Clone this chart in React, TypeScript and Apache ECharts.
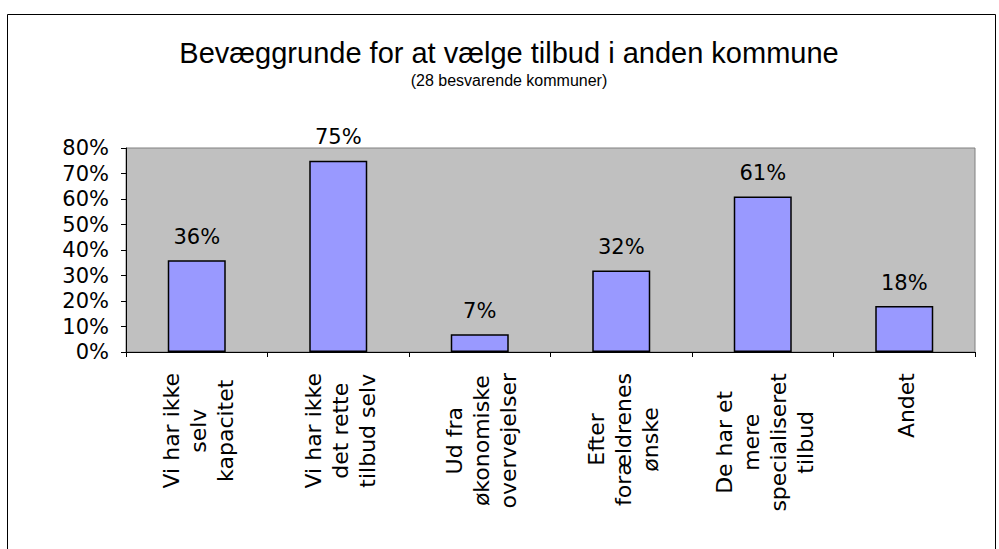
import React, { useEffect, useRef } from "react";
import * as echarts from "echarts";

const titleText = "Bevæggrunde for at vælge tilbud i anden kommune";
const subtitleText = "(28 besvarende kommuner)";
const categories = [
  "Vi har ikke\nselv\nkapacitet",
  "Vi har ikke\ndet rette\ntilbud selv",
  "Ud fra\nøkonomiske\novervejelser",
  "Efter\nforældrenes\nønske",
  "De har et\nmere\nspecialiseret\ntilbud",
  "Andet",
];
const values = [36, 75, 7, 32, 61, 18];
const yMin = 0;
const yMax = 80;
const yStep = 10;

export default function App() {
  const ref = useRef<HTMLDivElement>(null);
  useEffect(() => {
    if (!ref.current) return;
    const chart = echarts.init(ref.current, null, { renderer: "svg" });
    const axisFontName = "DejaVu Sans";
    const axisFont = "'DejaVu Sans', Verdana, sans-serif";
    const titleFont = "'Liberation Sans', Arial, sans-serif";
    const labelSize = 22;
    const labelLineHeight = 27;
    const labelMargin = 21;
    const frame = {
      type: "rect",
      shape: { x: 7.5, y: 14.5, width: 988, height: 600 },
      style: { fill: "none", stroke: "#000", lineWidth: 1 },
      silent: true,
      z: -1,
    };
    const titleEls = [
      {
        type: "text",
        x: 509,
        y: 53,
        silent: true,
        style: {
          text: titleText,
          fontFamily: titleFont,
          fontSize: 29,
          fill: "#000",
          align: "center",
          verticalAlign: "middle",
        },
      },
      {
        type: "text",
        x: 509,
        y: 80,
        silent: true,
        style: {
          text: subtitleText,
          fontFamily: titleFont,
          fontSize: 16,
          fill: "#000",
          align: "center",
          verticalAlign: "middle",
        },
      },
    ];
    chart.setOption({
      animation: false,
      backgroundColor: "#ffffff",
      graphic: [frame, ...titleEls],
      grid: {
        left: 126,
        right: 24,
        top: 148,
        bottom: 197,
        show: true,
        backgroundColor: "#C0C0C0",
        borderColor: "#808080",
        borderWidth: 1,
      },
      xAxis: {
        type: "category",
        data: categories,
        axisLine: { show: true, lineStyle: { color: "#000", width: 1 } },
        axisTick: { show: true, length: 5, lineStyle: { color: "#000" } },
        axisLabel: { show: false },
      },
      yAxis: {
        type: "value",
        min: yMin,
        max: yMax,
        interval: yStep,
        axisLine: { show: true, lineStyle: { color: "#000", width: 1 } },
        axisTick: { show: true, length: 5, lineStyle: { color: "#000" } },
        splitLine: { show: false },
        axisLabel: {
          margin: 17,
          fontFamily: axisFont,
          fontSize: 21,
          color: "#000",
          formatter: "{value}%",
        },
      },
      series: [
        {
          type: "bar",
          data: values,
          barWidth: 58,
          itemStyle: { color: "#9999FF", borderColor: "#000", borderWidth: 1.5 },
          label: {
            show: true,
            position: "top",
            distance: 13,
            formatter: "{c}%",
            fontFamily: axisFont,
            fontSize: 21,
            color: "#000",
          },
        },
      ],
    });

    const canvas = document.createElement("canvas");
    const ctx = canvas.getContext("2d");
    if (ctx) ctx.font = labelSize + "px '" + axisFontName + "'";
    const measure = (s: string) =>
      ctx ? ctx.measureText(s).width : s.length * labelSize * 0.55;
    const labelEls: any[] = [];
    categories.forEach((c, i) => {
      const p = chart.convertToPixel({ gridIndex: 0 }, [i, 0]) as number[];
      const lines = c.split("\n");
      const w = Math.max(...lines.map(measure));
      const n = lines.length;
      lines.forEach((line, j) => {
        labelEls.push({
          type: "text",
          x: p[0] + 2 + (j - (n - 1) / 2) * labelLineHeight,
          y: p[1] + labelMargin + w / 2,
          rotation: Math.PI / 2,
          silent: true,
          style: {
            text: line,
            fontFamily: axisFont,
            fontSize: labelSize,
            fill: "#000",
            align: "center",
            verticalAlign: "middle",
          },
        });
      });
    });
    chart.setOption({ graphic: [frame, ...titleEls, ...labelEls] });
    return () => chart.dispose();
  }, []);
  return (
    <div
      ref={ref}
      style={{ position: "fixed", left: 0, top: 0, width: 999, height: 549 }}
    />
  );
}
